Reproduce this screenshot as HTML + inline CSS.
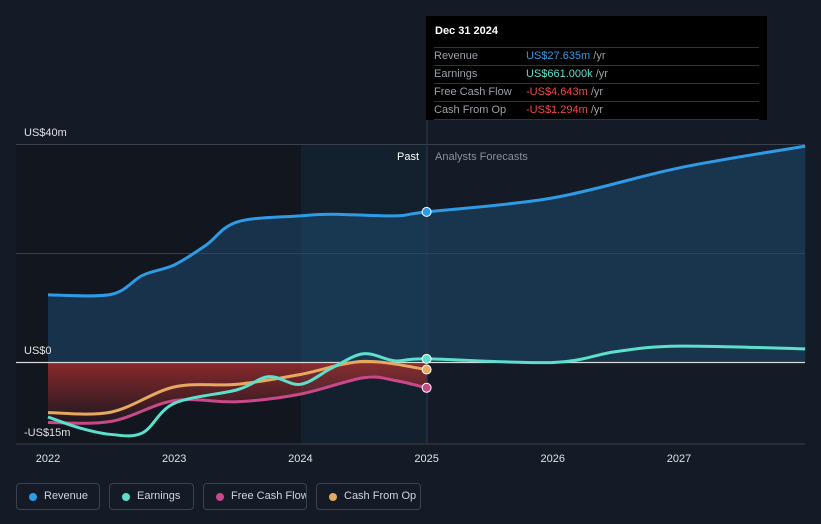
<!DOCTYPE html>
<html><head><meta charset="utf-8"><style>
body{margin:0;background:#151b26;font-family:"Liberation Sans",sans-serif;}
svg text{font-family:"Liberation Sans",sans-serif;}
.lg{position:absolute;top:483px;height:27px;border:1px solid #3a4150;border-radius:4px;color:#d0d4da;font-size:11px;line-height:25px;box-sizing:border-box;padding-left:27px;white-space:nowrap;overflow:hidden}
.lg i{position:absolute;left:12px;top:9px;width:8px;height:8px;border-radius:50%}
</style></head><body>
<div style="position:relative;width:821px;height:524px;overflow:hidden">
<svg id="c" width="821" height="524" style="position:absolute;left:0;top:0"></svg>
<div style="position:absolute;left:426px;top:16px;width:341px;height:104px;background:#000">
<div style="position:absolute;left:9px;top:9px;color:#fff;font-size:11px;font-weight:bold">Dec 31 2024</div>
<div style="position:absolute;left:8px;right:8px;top:31px;font-size:11px;line-height:17px;color:#9aa0a8">
<div style="border-top:1px solid #333;border-bottom:1px solid #333"><span style="display:inline-block;width:92px">Revenue</span><span style="color:#2e9be6">US$27.635m</span> /yr</div>
<div style="border-bottom:1px solid #333"><span style="display:inline-block;width:92px">Earnings</span><span style="color:#5ce0cc">US$661.000k</span> /yr</div>
<div style="border-bottom:1px solid #333"><span style="display:inline-block;width:92px">Free Cash Flow</span><span style="color:#f04848">-US$4.643m</span> /yr</div>
<div style="border-bottom:1px solid #333"><span style="display:inline-block;width:92px">Cash From Op</span><span style="color:#f04848">-US$1.294m</span> /yr</div>
</div></div>
<div class="lg" style="left:16px;width:84px"><i style="background:#2e9be6"></i>Revenue</div>
<div class="lg" style="left:109px;width:85px"><i style="background:#5ce0cc"></i>Earnings</div>
<div class="lg" style="left:203px;width:104px"><i style="background:#c8488a"></i>Free Cash Flow</div>
<div class="lg" style="left:316px;width:105px"><i style="background:#e8a860"></i>Cash From Op</div>
</div>
<script>
const revX=[2022,2022.5,2022.75,2023,2023.25,2023.5,2024,2024.25,2024.75,2025,2026,2027,2028];
const revY=[12.4,12.5,16,17.9,21.5,25.8,26.9,27.2,26.9,27.635,30.2,35.7,39.7];
const earnX=[2022,2022.25,2022.5,2022.75,2023,2023.5,2023.75,2024,2024.25,2024.5,2024.75,2025,2026,2026.5,2027,2028];
const earnY=[-10,-12,-13.2,-12.9,-7.5,-5,-2.6,-4,-1,1.6,0.3,0.661,0,2,3,2.5];
const fcfX=[2022,2022.5,2023,2023.5,2024,2024.5,2024.75,2025];
const fcfY=[-11,-10.8,-7,-7.2,-5.8,-2.8,-3.3,-4.643];
const cfoX=[2022,2022.5,2023,2023.5,2024,2024.5,2025];
const cfoY=[-9.2,-9.1,-4.5,-4,-2.2,0.2,-1.294];
const ticks=[2022,2023,2024,2025,2026,2027];
const X=t=>48+(t-2022)*126.2, Y=v=>362.5-v*5.45;
const s=document.getElementById('c'),NS='http://www.w3.org/2000/svg';
function mk(tag,a,p){const e=document.createElementNS(NS,tag);for(const k in a)e.setAttribute(k,a[k]);(p||s).appendChild(e);return e;}
function path(xs,ys){const p=xs.map((x,i)=>[X(x),Y(ys[i])]);let d='M'+p[0];for(let i=0;i<p.length-1;i++){const p0=p[i-1]||p[i],p1=p[i],p2=p[i+1],p3=p[i+2]||p2;d+=`C${p1[0]+(p2[0]-p0[0])/6},${p1[1]+(p2[1]-p0[1])/6} ${p2[0]-(p3[0]-p1[0])/6},${p2[1]-(p3[1]-p1[1])/6} ${p2[0]},${p2[1]}`;}return d;}
const defs=mk('defs',{});
defs.innerHTML='<linearGradient id="rg" x1="0" y1="0" x2="0" y2="1"><stop offset="0" stop-color="#b03030"/><stop offset="1" stop-color="#b03030" stop-opacity="0.1"/></linearGradient>';
let e=mk('rect',{x:16,y:145,width:285,height:299,fill:'#12161f'});
e=mk('rect',{x:301,y:145,width:126,height:299,fill:'#13202e'});
[40,20].forEach(v=>{e=mk('line',{x1:16,x2:805,y1:Y(v),y2:Y(v),stroke:'#3a404c'});});
e=mk('line',{x1:16,x2:805,y1:444,y2:444,stroke:'#3a404c'});
const rd=path(revX,revY);
e=mk('path',{d:rd+`L${X(2028)},${Y(0)}L${X(2022)},${Y(0)}Z`,fill:'#1e4a70',opacity:0.55});
e=mk('path',{d:path(fcfX,fcfY)+`L${X(2025)},${Y(0)}L${X(2022)},${Y(0)}Z`,fill:'url(#rg)',opacity:0.75});
e=mk('line',{x1:16,x2:805,y1:Y(0),y2:Y(0),stroke:'#d8d8d8','stroke-width':1.2});
e=mk('line',{x1:427,x2:427,y1:120,y2:444,stroke:'#2a3a50'});
const ser=[[cfoX,cfoY,'#e8a860','cash-from-op'],[fcfX,fcfY,'#c8488a','free-cash-flow'],[earnX,earnY,'#5ce0cc','earnings'],[revX,revY,'#2e9be6','revenue']];
ser.forEach(([xs,ys,c,n])=>{e=mk('path',{d:path(xs,ys),fill:'none',stroke:c,'stroke-width':3});
const i=xs.indexOf(2025);e=mk('circle',{cx:X(2025),cy:Y(ys[i]),r:4.5,fill:c,stroke:'#fff','stroke-width':1});});
function txt(x,y,t,o,n){const el=mk('text',Object.assign({x:x,y:y,'font-size':11,fill:'#e0e0e0'},o||{}));el.textContent=t;}
txt(24,136,'US$40m',{},'y-label-40m');txt(24,354,'US$0',{},'y-label-0');txt(24,436,'-US$15m',{},'y-label-neg15m');
txt(419,160,'Past',{'text-anchor':'end','fill':'#fff'},'past-label');txt(435,160,'Analysts Forecasts',{fill:'#8a909a'},'forecast-label');
ticks.forEach(t=>txt(X(t),462,String(t),{'text-anchor':'middle'},'x-tick-'+t));
</script>
</body></html>
